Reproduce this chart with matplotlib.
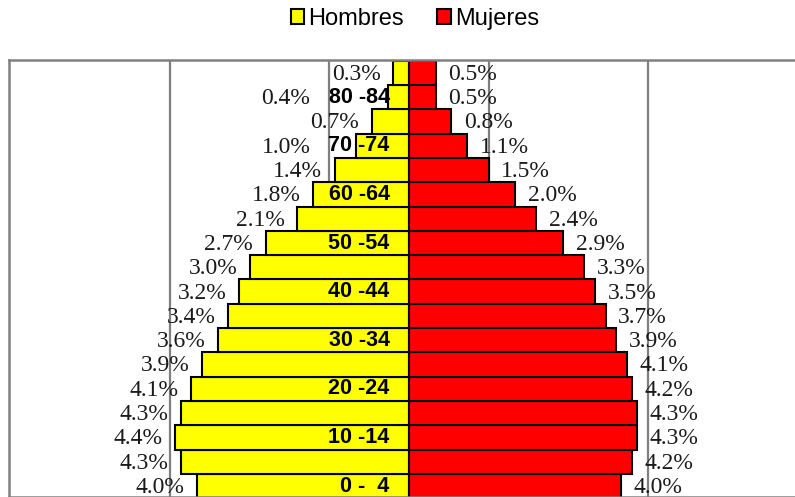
import numpy as np
import matplotlib.pyplot as plt
from matplotlib.patches import Patch

# age groups bottom -> top
ages = ['0 -  4', '5 - 9', '10 -14', '15 -19', '20 -24', '25 -29', '30 -34', '35 -39',
        '40 -44', '45 -49', '50 -54', '55 -59', '60 -64', '65 -69', '70 -74', '75 -79',
        '80 -84', '85 +']
hombres = [4.0, 4.3, 4.4, 4.3, 4.1, 3.9, 3.6, 3.4, 3.2, 3.0, 2.7, 2.1, 1.8, 1.4, 1.0, 0.7, 0.4, 0.3]
mujeres = [4.0, 4.2, 4.3, 4.3, 4.2, 4.1, 3.9, 3.7, 3.5, 3.3, 2.9, 2.4, 2.0, 1.5, 1.1, 0.8, 0.5, 0.5]
shown_ages = ['0 -  4', '10 -14', '20 -24', '30 -34', '40 -44', '50 -54', '60 -64', '70 -74', '80 -84']

fig = plt.figure(figsize=(7.95, 4.97), dpi=100)
ax = fig.add_axes([9 / 795, 0, 800 / 795, 437 / 497])

y = np.arange(len(ages))
h = np.array(hombres)
m = np.array(mujeres)

ax.barh(y, -h, height=1.0, color='#ffff00', edgecolor='black', linewidth=1.5, zorder=2)
ax.barh(y, m, height=1.0, color='#ff0000', edgecolor='black', linewidth=1.5, zorder=2)

for g in [-4.5, -1.5, 1.5, 4.5]:
    ax.axvline(g, color='#7f7f7f', lw=1.6, zorder=1)

serif = 'Liberation Serif'
txt_col = '#1a1a1a'
for yi, v, a in zip(y, h, ages):
    # short bars next to an age label: push the value past the label
    x0 = min(-v, -1.62) if a in shown_ages else -v
    ax.annotate(f'{v:.1f}%', (x0, yi), xytext=(-9, -1), textcoords='offset points',
                ha='right', va='center', fontsize=17, family=serif, color=txt_col)
for yi, v in zip(y, m):
    ax.annotate(f'{v:.1f}%', (v, yi), xytext=(9, -1), textcoords='offset points',
                ha='left', va='center', fontsize=17, family=serif, color=txt_col)

for yi, a in zip(y, ages):
    if a in shown_ages:
        ax.annotate(a, (0, yi), xytext=(-14, 0), textcoords='offset points',
                    ha='right', va='center', fontsize=15.5, fontweight='bold',
                    family='Liberation Sans', zorder=3)

ax.set_xlim(-7.53, 7.53)
ax.set_ylim(-0.45, 17.53)
ax.set_xticks([])
ax.set_yticks([])
for s in ax.spines.values():
    s.set_color('#808080')
    s.set_linewidth(1.8)

handles = [Patch(facecolor='#ffff00', edgecolor='black', lw=1.5, label='Hombres'),
           Patch(facecolor='#ff0000', edgecolor='black', lw=1.5, label='Mujeres')]
fig.legend(handles=handles, loc='center', bbox_to_anchor=(415 / 795, 1 - 19 / 497), ncol=2,
           frameon=False, handlelength=0.56, handleheight=0.56, handletextpad=0.2,
           columnspacing=1.4, prop={'family': 'Liberation Sans', 'size': 17})

fig.savefig('out.png', dpi=100)
